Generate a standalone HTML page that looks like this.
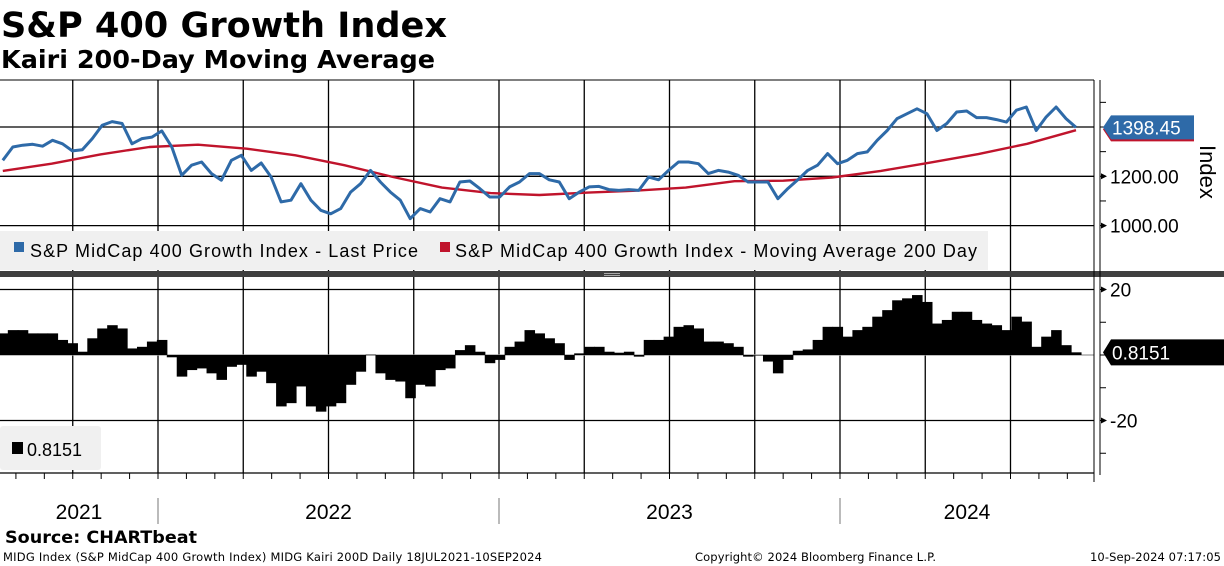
<!DOCTYPE html>
<html><head><meta charset="utf-8"><style>
html,body{margin:0;padding:0;background:#fff;width:1224px;height:566px;overflow:hidden}
svg{display:block;font-family:"Liberation Sans",sans-serif}
</style></head><body>
<svg id="chart" width="1224" height="566" viewBox="0 0 1224 566">
<text x="1" y="37" font-family="DejaVu Sans" font-weight="bold" font-size="35" textLength="446" lengthAdjust="spacingAndGlyphs">S&amp;P 400 Growth Index</text>
<text x="1" y="68" font-family="DejaVu Sans" font-weight="bold" font-size="25" textLength="434" lengthAdjust="spacingAndGlyphs">Kairi 200-Day Moving Average</text>
<g id="grid"></g>
<rect x="0" y="231" width="988" height="39" fill="#f0f0f0"/>
<rect x="14" y="242" width="10" height="10" fill="#2e6aa8"/>
<text x="30" y="257" font-size="18" textLength="388">S&amp;P MidCap 400 Growth Index - Last Price</text>
<rect x="440" y="242" width="10" height="10" fill="#c0142c"/>
<text x="455" y="257" font-size="18" textLength="522">S&amp;P MidCap 400 Growth Index - Moving Average 200 Day</text>
<rect x="0" y="271" width="1224" height="6" fill="#404040"/>
<rect x="604" y="273" width="16" height="1" fill="#aaa"/><rect x="604" y="275" width="16" height="1" fill="#aaa"/>
<rect x="0" y="426" width="101" height="44" rx="3" fill="#f0f0f0"/>
<rect x="12" y="442" width="11" height="12" fill="#000"/>
<text x="27" y="456" font-size="18">0.8151</text>
<g id="marks"></g>
<g id="axes"></g>
<text x="5" y="543" font-family="DejaVu Sans" font-weight="bold" font-size="17" textLength="192" lengthAdjust="spacingAndGlyphs">Source: CHARTbeat</text>
<text x="3" y="561" font-family="DejaVu Sans" font-size="11.5" textLength="539">MIDG Index (S&amp;P MidCap 400 Growth Index) MIDG Kairi 200D  Daily 18JUL2021-10SEP2024</text>
<text x="695" y="561" font-family="DejaVu Sans" font-size="11.5" textLength="241">Copyright© 2024 Bloomberg Finance L.P.</text>
<text x="1090" y="561" font-family="DejaVu Sans" font-size="11.5" textLength="131">10-Sep-2024 07:17:05</text>
</svg>
<script>
const startDate = 2021.545, endDate = 2024.692;
const priceValues = [1265,1319,1326,1330,1322,1346,1332,1303,1308,1353,1407,1422,1414,1332,1353,1359,1384,1319,1204,1245,1258,1211,1184,1265,1285,1224,1254,1197,1096,1103,1170,1103,1062,1048,1069,1136,1170,1224,1177,1136,1103,1028,1069,1055,1109,1096,1177,1181,1150,1116,1116,1157,1177,1211,1211,1186,1177,1109,1136,1157,1159,1146,1143,1146,1143,1197,1186,1224,1258,1258,1251,1211,1224,1217,1204,1177,1177,1177,1109,1150,1186,1224,1245,1292,1251,1265,1292,1299,1346,1386,1434,1454,1474,1454,1386,1414,1461,1465,1438,1438,1430,1420,1468,1481,1386,1441,1481,1434,1398.45];
const maValues = [1222,1251,1289,1319,1328,1312,1285,1245,1197,1154,1132,1124,1134,1142,1154,1180,1182,1195,1222,1255,1290,1332,1387];
const kairiValues = [6.6,7.6,7.6,6.6,6.6,6.6,4.6,3.6,1.0,5.1,8.1,9.1,8.1,2.0,2.5,4.1,4.6,-0.7,-6.6,-4.6,-4.1,-5.6,-7.6,-3.6,-3.0,-6.6,-5.1,-8.6,-15.7,-14.7,-9.6,-15.7,-17.3,-15.7,-14.7,-9.1,-5.1,0.1,-5.6,-7.6,-8.1,-13.2,-9.1,-9.6,-4.6,-4.1,1.5,3.0,1.0,-2.5,-1.5,2.5,4.1,7.6,6.6,5.1,3.6,-1.5,0.5,2.5,2.5,1.0,0.7,1.0,-0.5,4.6,4.6,5.6,8.6,9.1,8.1,4.1,4.1,3.6,2.5,-0.5,0,-2.0,-5.6,-1.5,1.3,1.7,4.6,8.6,8.6,5.6,7.6,8.6,11.7,13.7,16.7,17.3,18.3,16.2,9.6,10.7,13.2,13.2,10.7,9.6,9.1,7.6,11.7,10.2,2.5,5.6,7.6,3.0,0.8151];
const priceTicks = [1000,1200,1400];
const priceTickLabels = ["1000.00","1200.00",""];
const kairiTicks = [-20,20];
const kairiTickLabels = ["-20","20"];
const yearLabels = ["2021","2022","2023","2024"];
const lastPrice = 1398.45, lastKairi = 0.8151;

const NS = "http://www.w3.org/2000/svg";
const X1 = 1094;
function xT(t){ return 158 + (t - 2022) * 341; }
function xi(i, n){ return xT(startDate + i * (endDate - startDate) / (n - 1)); }
function yP(v){ return 127 + (1400 - v) * 49.3 / 200; }
function yK(v){ return 355 - v * 65.5 / 20; }
function mk(tag, attrs, parent){ const e = document.createElementNS(NS, tag); for (const k in attrs) e.setAttribute(k, attrs[k]); parent.appendChild(e); return e; }
const grid = document.getElementById('grid'), marks = document.getElementById('marks'), axes = document.getElementById('axes');

mk('line',{x1:0,x2:X1,y1:80,y2:80,stroke:'#000','stroke-width':1},grid);
priceTicks.forEach(v=>{
  const l = mk('line',{x1:0,x2:X1,y1:yP(v),y2:yP(v),stroke:'#000','stroke-width':1.3},grid);
  
  
});
kairiTicks.forEach(v=>{
  const l = mk('line',{x1:0,x2:X1,y1:yK(v),y2:yK(v),stroke:'#000','stroke-width':1.3},grid);
  
  
});
mk('line',{x1:0,x2:X1,y1:473,y2:473,stroke:'#000','stroke-width':1.3},grid);
for (let y = 2021; y <= 2024; y++) for (let q = 0; q < 4; q++){
  const t = y + q / 4; const x = xT(t);
  if (x < 5 || x > 1090) continue;
  const l1 = mk('line',{x1:x,x2:x,y1:80,y2:271,stroke:'#000','stroke-width':1.3},grid);
  
  
  mk('line',{x1:x,x2:x,y1:277,y2:473,stroke:'#000','stroke-width':1.3},grid);
}
for (let m = 0; m < 12*4; m++){
  const t = 2021 + m/12; const x = xT(t);
  if (x < 5 || x > 1090) continue;
  mk('line',{x1:x,x2:x,y1:473,y2:479,stroke:'#000','stroke-width':1},axes);
}
[2022,2023,2024].forEach(y=>{ mk('line',{x1:xT(y),x2:xT(y),y1:498,y2:524,stroke:'#777','stroke-width':1},axes); });
yearLabels.forEach((lab,i)=>{
  const yr = 2021 + i;
  const a = Math.max(xT(yr), 0), b = Math.min(xT(yr+1), 1094);
  const t = mk('text',{x:(a+b)/2,y:519,'font-size':21,'text-anchor':'middle'},axes);
  t.textContent = lab;
  
  
});
mk('line',{x1:0,x2:X1,y1:yK(0),y2:yK(0),stroke:'#999','stroke-width':1.3},grid);

const nK = kairiValues.length;
const stepK = xi(1,nK) - xi(0,nK);
kairiValues.forEach((v,i)=>{
  const x = xi(i,nK) - stepK/2;
  const y0 = yK(0), y1 = yK(v);
  const r = mk('rect',{x:Math.max(x,0),y:Math.min(y0,y1),width:stepK+0.6,height:Math.max(Math.abs(y1-y0),0.5),fill:'#000'},marks);
  
  
});
const nM = maValues.length;
const ma = mk('polyline',{points:maValues.map((v,i)=>xi(i,nM).toFixed(1)+','+yP(v).toFixed(1)).join(' '),fill:'none',stroke:'#c0142c','stroke-width':2.4,'stroke-linejoin':'round'},marks);


const nP = priceValues.length;
const pl = mk('polyline',{points:priceValues.map((v,i)=>xi(i,nP).toFixed(1)+','+yP(v).toFixed(1)).join(' '),fill:'none',stroke:'#2e6aa8','stroke-width':3,'stroke-linejoin':'round'},marks);



mk('line',{x1:1094,x2:1094,y1:80,y2:482,stroke:'#000','stroke-width':1},axes);
mk('line',{x1:1100,x2:1100,y1:80,y2:475,stroke:'#000','stroke-width':1},axes);
for (let v = 1000; v <= 1500; v += 100){ const y = yP(v); if (y>82 && y<270) mk('line',{x1:1100,x2:1106,y1:y,y2:y,stroke:'#000','stroke-width':1},axes); }
for (let v = -30; v <= 20; v += 10){ const y = yK(v); if (y>280 && y<472) mk('line',{x1:1100,x2:1106,y1:y,y2:y,stroke:'#000','stroke-width':1},axes); }
priceTicks.forEach((v,i)=>{
  if (!priceTickLabels[i]) return;
  mk('polygon',{points:`1101,${yP(v)-3} 1107,${yP(v)} 1101,${yP(v)+3}`,fill:'#000'},axes);
  const t = mk('text',{x:1110,y:yP(v)+7,'font-size':19},axes);
  t.textContent = priceTickLabels[i];
  
  
});
kairiTicks.forEach((v,i)=>{
  mk('polygon',{points:`1101,${yK(v)-3} 1107,${yK(v)} 1101,${yK(v)+3}`,fill:'#000'},axes);
  const t = mk('text',{x:1110,y:yK(v)+7,'font-size':19},axes);
  t.textContent = kairiTickLabels[i];
  
  
});
const ttl = mk('text',{x:1200,y:145,'font-size':22,transform:'rotate(90 1200 145)'},axes);
ttl.textContent = 'Index';


const yl = yP(lastPrice);
mk('polygon',{points:`1103,${yl+2} 1111,${yl-10} 1194,${yl-10} 1194,${yl+14} 1111,${yl+14}`,fill:'#c0142c'},axes);
const tag = mk('polygon',{points:`1103,${yl} 1111,${yl-12} 1194,${yl-12} 1194,${yl+12} 1111,${yl+12}`,fill:'#2e6aa8'},axes);


const tt = mk('text',{x:1112,y:yl+7,'font-size':19,fill:'#fff'},axes);
tt.textContent = lastPrice.toFixed(2);
const yk = yK(lastKairi);
const ktag = mk('polygon',{points:`1103,${yk} 1111,${yk-13} 1224,${yk-13} 1224,${yk+13} 1111,${yk+13}`,fill:'#000'},axes);


const kt = mk('text',{x:1112,y:yk+7,'font-size':19,fill:'#fff'},axes);
kt.textContent = lastKairi.toFixed(4);
</script>
</body></html>
